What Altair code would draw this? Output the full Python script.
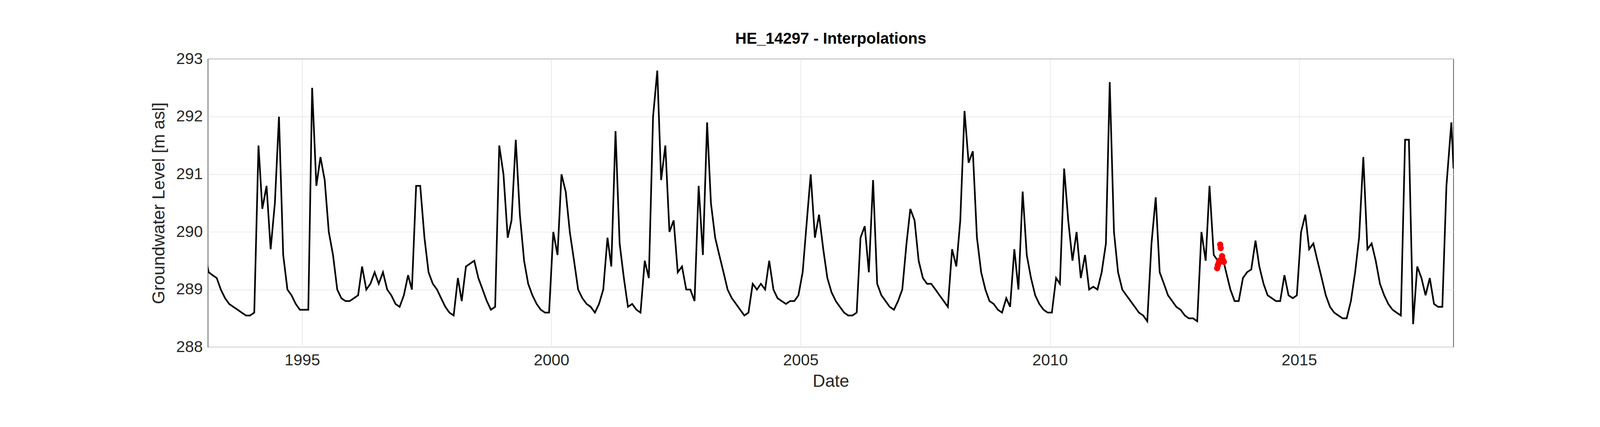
import pandas as pd
import altair as alt

# monthly groundwater levels (mid-month)
levels = {
    1993: [289.65, 289.3, 289.25, 289.2, 289.0, 288.85, 288.75, 288.7, 288.65, 288.6, 288.55, 288.55],
    1994: [288.6, 291.5, 290.4, 290.8, 289.7, 290.5, 292.0, 289.6, 289.0, 288.9, 288.75, 288.65],
    1995: [288.65, 288.65, 292.5, 290.8, 291.3, 290.9, 290.0, 289.6, 289.0, 288.85, 288.8, 288.8],
    1996: [288.85, 288.9, 289.4, 289.0, 289.1, 289.3, 289.1, 289.3, 289.0, 288.9, 288.75, 288.7],
    1997: [288.9, 289.25, 289.0, 290.8, 290.8, 289.9, 289.3, 289.1, 289.0, 288.85, 288.7, 288.6],
    1998: [288.55, 289.2, 288.8, 289.4, 289.45, 289.5, 289.2, 289.0, 288.8, 288.65, 288.7, 291.5],
    1999: [291.0, 289.9, 290.2, 291.6, 290.3, 289.5, 289.1, 288.9, 288.75, 288.65, 288.6, 288.6],
    2000: [290.0, 289.6, 291.0, 290.7, 290.0, 289.5, 289.0, 288.85, 288.75, 288.7, 288.6, 288.75],
    2001: [289.0, 289.9, 289.4, 291.75, 289.8, 289.2, 288.7, 288.75, 288.65, 288.6, 289.5, 289.2],
    2002: [292.0, 292.8, 290.9, 291.5, 290.0, 290.2, 289.3, 289.4, 289.0, 289.0, 288.8, 290.8],
    2003: [289.6, 291.9, 290.5, 289.9, 289.6, 289.3, 289.0, 288.85, 288.75, 288.65, 288.55, 288.6],
    2004: [289.1, 289.0, 289.1, 289.0, 289.5, 289.0, 288.85, 288.8, 288.75, 288.8, 288.8, 288.9],
    2005: [289.3, 290.2, 291.0, 289.9, 290.3, 289.7, 289.2, 288.95, 288.8, 288.7, 288.6, 288.55],
    2006: [288.55, 288.6, 289.9, 290.1, 289.3, 290.9, 289.1, 288.9, 288.8, 288.7, 288.65, 288.8],
    2007: [289.0, 289.8, 290.4, 290.2, 289.5, 289.2, 289.1, 289.1, 289.0, 288.9, 288.8, 288.7],
    2008: [289.7, 289.4, 290.2, 292.1, 291.2, 291.4, 289.9, 289.3, 289.0, 288.8, 288.75, 288.65],
    2009: [288.6, 288.85, 288.7, 289.7, 289.0, 290.7, 289.6, 289.2, 288.9, 288.75, 288.65, 288.6],
    2010: [288.6, 289.2, 289.1, 291.1, 290.2, 289.5, 290.0, 289.2, 289.6, 289.0, 289.05, 289.0],
    2011: [289.3, 289.8, 292.6, 290.0, 289.3, 289.0, 288.9, 288.8, 288.7, 288.6, 288.55, 288.45],
    2012: [289.8, 290.6, 289.3, 289.1, 288.9, 288.8, 288.7, 288.65, 288.55, 288.5, 288.5, 288.45],
    2013: [290.0, 289.5, 290.8, 289.6, 289.5, 289.6, 289.3, 289.0, 288.8, 288.8, 289.2, 289.3],
    2014: [289.35, 289.85, 289.4, 289.1, 288.9, 288.85, 288.8, 288.8, 289.25, 288.9, 288.85, 288.9],
    2015: [290.0, 290.3, 289.7, 289.8, 289.5, 289.2, 288.9, 288.7, 288.6, 288.55, 288.5, 288.5],
    2016: [288.8, 289.3, 289.9, 291.3, 289.7, 289.8, 289.5, 289.1, 288.9, 288.75, 288.65, 288.6],
    2017: [288.55, 291.6, 291.6, 288.4, 289.4, 289.2, 288.9, 289.2, 288.75, 288.7, 288.7, 290.8],
}
tail_dates = ["2018-01-20", "2018-02-05"]
tail_levels = [291.9, 291.1]

interp_dates = ["2013-05-10", "2013-05-15", "2013-05-20", "2013-05-25", "2013-06-01",
                "2013-06-05", "2013-06-15", "2013-06-20", "2013-06-28"]
interp_levels = [289.37, 289.42, 289.45, 289.5, 289.78, 289.72, 289.58, 289.52, 289.48]

rows = []
for year, vals in levels.items():
    for m, v in enumerate(vals, start=1):
        rows.append({"date": f"{year}-{m:02d}-15", "level": v})
for d, v in zip(tail_dates, tail_levels):
    rows.append({"date": d, "level": v})
df = pd.DataFrame(rows)
interp = pd.DataFrame({"date": interp_dates, "level": interp_levels})

font = "Liberation Sans"
x = alt.X("date:T", title="Date",
          scale=alt.Scale(domain=[alt.DateTime(year=1993, month=2, date=10),
                                  alt.DateTime(year=2018, month=2, date=5)]),
          axis=alt.Axis(format="%Y", values=[alt.DateTime(year=y, month=1, date=1) for y in range(1995, 2020, 5)]))
y = alt.Y("level:Q", title="Groundwater Level [m asl]",
          scale=alt.Scale(domain=[288, 293]),
          axis=alt.Axis(values=[288, 289, 290, 291, 292, 293]))

line = alt.Chart(df).mark_line(color="black", strokeWidth=5, clip=True).encode(x=x, y=y)
pts = alt.Chart(interp).mark_circle(color="red", size=350, opacity=1).encode(x=x, y=y)

chart = (line + pts).properties(
    width=3745, height=867,
    title=alt.Title("HE_14297 - Interpolations", fontSize=47, font=font, fontWeight="bold", offset=12),
    autosize="none",
    padding={"left": 616, "top": 74, "right": 431, "bottom": 140},
).configure_view(stroke="#444444", strokeWidth=2).configure_axis(
    labelFont=font, titleFont=font, labelFontSize=48, titleFontSize=52,
    titleFontWeight="normal", labelColor="#262626", titleColor="#262626",
    gridColor="#e6e6e6", gridWidth=2, domain=False, ticks=False, labelPadding=16,
).configure_axisX(titlePadding=14).configure_axisY(titlePadding=24)

chart.save("out.html", embed_options={"renderer": "svg", "actions": False})
